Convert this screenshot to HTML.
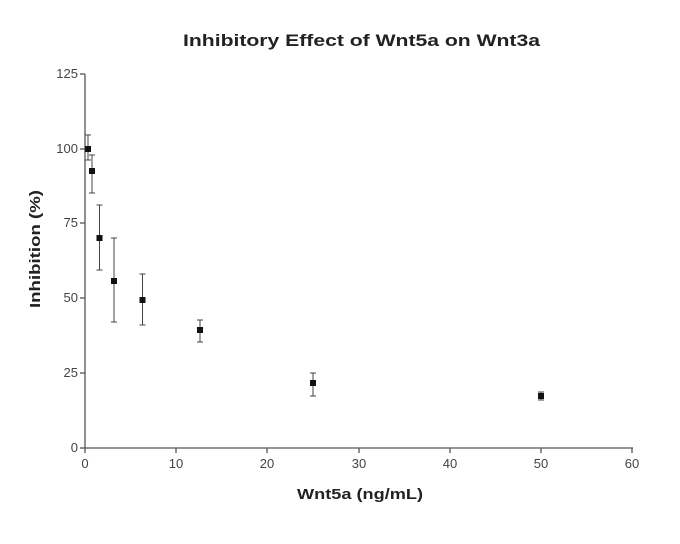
<!DOCTYPE html>
<html><head><style>body{margin:0;background:#fff}svg{display:block}text{font-family:"Liberation Sans",sans-serif}</style></head><body>
<svg width="680" height="544" viewBox="0 0 680 544">
<text x="183" y="46" textLength="357" lengthAdjust="spacingAndGlyphs" font-size="17" font-weight="bold" fill="#222">Inhibitory Effect of Wnt5a on Wnt3a</text>
<g stroke="#555" stroke-width="1.3" fill="none">
<line x1="85" y1="74" x2="85" y2="448"/>
<line x1="85" y1="448" x2="633" y2="448"/>
<line x1="80" y1="74" x2="85" y2="74"/><line x1="80" y1="149" x2="85" y2="149"/><line x1="80" y1="223" x2="85" y2="223"/><line x1="80" y1="298" x2="85" y2="298"/><line x1="80" y1="373" x2="85" y2="373"/><line x1="80" y1="448" x2="85" y2="448"/>
<line x1="85" y1="448" x2="85" y2="453"/><line x1="176" y1="448" x2="176" y2="453"/><line x1="267" y1="448" x2="267" y2="453"/><line x1="359" y1="448" x2="359" y2="453"/><line x1="450" y1="448" x2="450" y2="453"/><line x1="541" y1="448" x2="541" y2="453"/><line x1="632" y1="448" x2="632" y2="453"/>
</g>
<g font-size="13" fill="#444" text-anchor="end">
<text x="78" y="78">125</text><text x="78" y="153">100</text><text x="78" y="227">75</text><text x="78" y="302">50</text><text x="78" y="377">25</text><text x="78" y="452">0</text>
</g>
<g font-size="13" fill="#444" text-anchor="middle">
<text x="85" y="468">0</text><text x="176" y="468">10</text><text x="267" y="468">20</text><text x="359" y="468">30</text><text x="450" y="468">40</text><text x="541" y="468">50</text><text x="632" y="468">60</text>
</g>
<text x="297" y="499" textLength="126" lengthAdjust="spacingAndGlyphs" font-size="15" font-weight="bold" fill="#222">Wnt5a (ng/mL)</text>
<text transform="translate(40,249) rotate(-90)" x="-59" y="0" textLength="118" lengthAdjust="spacingAndGlyphs" font-size="15" font-weight="bold" fill="#222">Inhibition (%)</text>
<g stroke="#444" stroke-width="1">
<path d="M88 135V160M85 135H91M85 160H91"/>
<path d="M92 155V193M89 155H95M89 193H95"/>
<path d="M99.5 205V270M96.5 205H102.5M96.5 270H102.5"/>
<path d="M114 238V322M111 238H117M111 322H117"/>
<path d="M142.5 274V325M139.5 274H145.5M139.5 325H145.5"/>
<path d="M200 320V342M197 320H203M197 342H203"/>
<path d="M313 373V396M310 373H316M310 396H316"/>
<path d="M541 392V400M538 392H544M538 400H544"/>
</g>
<g fill="#111">
<rect x="85" y="146" width="6" height="6"/><rect x="89" y="168" width="6" height="6"/><rect x="96.5" y="235" width="6" height="6"/><rect x="111" y="278" width="6" height="6"/><rect x="139.5" y="297" width="6" height="6"/><rect x="197" y="327" width="6" height="6"/><rect x="310" y="380" width="6" height="6"/><rect x="538" y="393" width="6" height="6"/>
</g>
</svg>
</body></html>
